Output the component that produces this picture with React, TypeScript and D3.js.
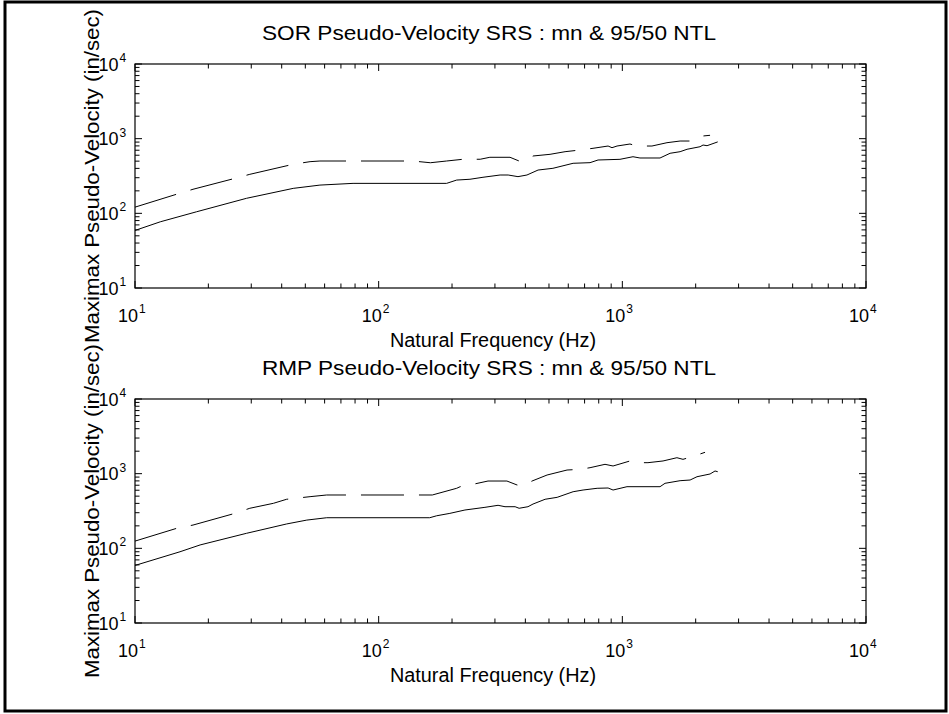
import React from "react";
import * as d3 from "d3";

// ---------- data ----------
const sorMeanFreq = [10, 12.7, 17.9, 28.7, 44.6, 57.4, 78.5, 190, 209, 237, 268, 315, 340, 373, 406, 451, 519, 628, 737, 795, 978, 1106, 1181, 1428, 1570, 1726, 1843, 2084, 2144, 2227, 2463];
const sorMean = [59, 77, 105, 159, 216, 239, 252, 252, 279, 286, 304, 326, 326, 310, 326, 380, 401, 468, 477, 518, 529, 573, 551, 551, 637, 669, 721, 780, 822, 805, 905];

const sorNtlFreq = [10, 14.8, 17.3, 25.7, 29.6, 44.6, 52.3, 57.4, 138, 163, 190, 222, 261, 286, 346, 377, 410, 430, 505, 582, 670, 758, 874, 907, 951, 1075, 1149, 1323, 1525, 1726, 1897, 2025, 2144, 2291];
const sorNtl = [121, 180, 210, 294, 333, 454, 492, 502, 502, 476, 502, 530, 530, 563, 563, 502, 530, 586, 617, 669, 705, 743, 797, 757, 797, 848, 797, 797, 883, 930, 930, 1031, 1086, 1109];

const rmpMeanFreq = [10, 15.3, 18.5, 28.7, 41.9, 50.7, 61.2, 162, 173, 196, 226, 273, 309, 330, 363, 377, 410, 430, 482, 540, 628, 690, 788, 874, 916, 1045, 1428, 1497, 1726, 1897, 2025, 2291, 2401, 2463];
const rmpMean = [59, 90, 111, 159, 212, 239, 257, 257, 273, 294, 326, 354, 377, 361, 361, 344, 361, 392, 454, 482, 573, 604, 637, 643, 604, 669, 669, 743, 805, 822, 910, 990, 1086, 1062];

const rmpNtlFreq = [10, 14.8, 17.3, 25.7, 29.6, 37.0, 41.9, 52.3, 61.2, 138, 166, 209, 216, 244, 281, 336, 370, 399, 426, 491, 593, 670, 737, 849, 916, 1075, 1149, 1274, 1469, 1675, 1774, 1897, 2084, 2185];
const rmpNtl = [125, 185, 205, 294, 344, 401, 454, 492, 518, 518, 518, 637, 669, 721, 797, 797, 705, 705, 797, 959, 1119, 1143, 1202, 1334, 1267, 1479, 1403, 1403, 1479, 1636, 1556, 1660, 1834, 1932];

const decades = [10, 100, 1000, 10000];
const tickExponents = ["1", "2", "3", "4"];
const panelTitles = [
  "SOR Pseudo-Velocity SRS : mn & 95/50 NTL",
  "RMP Pseudo-Velocity SRS : mn & 95/50 NTL",
];
const xLabelText = "Natural Frequency (Hz)";
const yLabelText = "Maximax Pseudo-Velocity (in/sec)";

const FONT = "'Liberation Sans', Arial, Helvetica, sans-serif";

type PanelProps = {
  top: number;
  title: string;
  meanF: number[];
  mean: number[];
  ntlF: number[];
  ntl: number[];
};

const LEFT = 135;
const RIGHT = 866;
const PH = 224;

function Panel({ top, title, meanF, mean, ntlF, ntl }: PanelProps) {
  const bottom = top + PH;
  const x = d3.scaleLog().domain([10, 10000]).range([LEFT, RIGHT]);
  const y = d3.scaleLog().domain([10, 10000]).range([bottom, top]);

  const minor: number[] = [];
  for (const d of decades.slice(0, 3)) for (let k = 2; k <= 9; k++) minor.push(d * k);

  const line = d3
    .line<[number, number]>()
    .x((d) => x(d[0]))
    .y((d) => y(d[1]));
  const meanPath = line(meanF.map((f, i) => [f, mean[i]] as [number, number])) || "";
  const ntlPath = line(ntlF.map((f, i) => [f, ntl[i]] as [number, number])) || "";

  const MAJ = 7;
  const MIN = 4.5;

  return (
    <g>
      {/* ticks */}
      {decades.map((d) => (
        <g key={"M" + d} stroke="#000" strokeWidth={1}>
          <line x1={x(d)} x2={x(d)} y1={bottom} y2={bottom - MAJ} />
          <line x1={x(d)} x2={x(d)} y1={top} y2={top + MAJ} />
          <line x1={LEFT} x2={LEFT + MAJ} y1={y(d)} y2={y(d)} />
          <line x1={RIGHT} x2={RIGHT - MAJ} y1={y(d)} y2={y(d)} />
        </g>
      ))}
      {minor.map((d) => (
        <g key={"m" + d} stroke="#000" strokeWidth={1}>
          <line x1={x(d)} x2={x(d)} y1={bottom} y2={bottom - MIN} />
          <line x1={x(d)} x2={x(d)} y1={top} y2={top + MIN} />
          <line x1={LEFT} x2={LEFT + MIN} y1={y(d)} y2={y(d)} />
          <line x1={RIGHT} x2={RIGHT - MIN} y1={y(d)} y2={y(d)} />
        </g>
      ))}
      <rect x={LEFT} y={top} width={RIGHT - LEFT} height={PH} fill="none" stroke="#000" strokeWidth={1.2} />

      {/* data */}
      <path d={ntlPath} fill="none" stroke="#000" strokeWidth={1} strokeDasharray="43 15" />
      <path d={meanPath} fill="none" stroke="#000" strokeWidth={1} />

      {/* x tick labels */}
      {decades.map((d, i) => (
        <g key={"xl" + d} fontFamily={FONT}>
          <text x={x(d) + 3} y={bottom + 34} textAnchor="end" fontSize={18}>10</text>
          <text x={x(d) + 4} y={bottom + 25} textAnchor="start" fontSize={12}>{tickExponents[i]}</text>
        </g>
      ))}
      {/* y tick labels */}
      {decades.map((d, i) => (
        <g key={"yl" + d} fontFamily={FONT}>
          <text x={LEFT - 16.5} y={y(d) + 6.5} textAnchor="end" fontSize={18}>10</text>
          <text x={LEFT - 15.5} y={y(d) - 2} textAnchor="start" fontSize={12}>{tickExponents[i]}</text>
        </g>
      ))}

      {/* title & labels */}
      <text x={262} y={top - 24} fontSize={21} fontFamily={FONT} textLength={454} lengthAdjust="spacingAndGlyphs">
        {title}
      </text>
      <text x={390} y={bottom + 59} fontSize={20} fontFamily={FONT} textLength={206} lengthAdjust="spacingAndGlyphs">
        {xLabelText}
      </text>
      <text
        transform={`translate(99, ${top + PH / 2}) rotate(-90)`}
        textAnchor="middle"
        fontSize={20}
        fontFamily={FONT}
        textLength={334}
        lengthAdjust="spacingAndGlyphs"
      >
        {yLabelText}
      </text>
    </g>
  );
}

export default function App() {
  return (
    <svg
      width={949}
      height={714}
      style={{ position: "absolute", left: 0, top: 0, background: "#fff" }}
    >
      <rect x={0} y={0} width={949} height={714} fill="#fff" />
      <Panel top={64} title={panelTitles[0]} meanF={sorMeanFreq} mean={sorMean} ntlF={sorNtlFreq} ntl={sorNtl} />
      <Panel top={399} title={panelTitles[1]} meanF={rmpMeanFreq} mean={rmpMean} ntlF={rmpNtlFreq} ntl={rmpNtl} />
      <rect x={5} y={2} width={941} height={709} fill="none" stroke="#000" strokeWidth={3} />
    </svg>
  );
}
